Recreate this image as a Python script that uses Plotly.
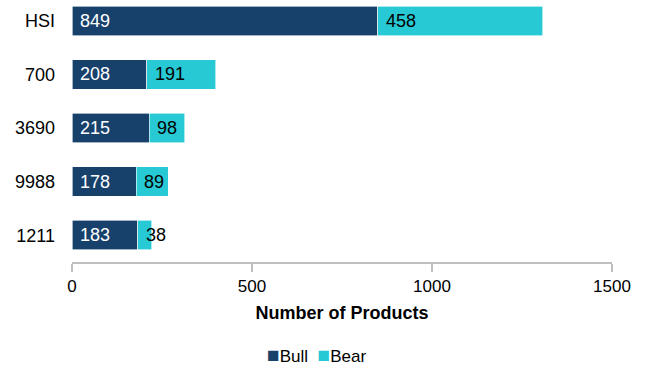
import plotly.graph_objects as go

# Warrant counts per underlying (top to bottom as listed)
underlyings = ["HSI", "700", "3690", "9988", "1211"]
bull = [849, 208, 215, 178, 183]
bear = [458, 191, 98, 89, 38]

NAVY = "#17416B"
CYAN = "#27C9D4"
FONT = "Liberation Sans, Arial, sans-serif"

# Bottom-to-top category order for the vertical axis
cat_order = underlyings[::-1]

fig = go.Figure()
fig.add_trace(go.Bar(
    y=underlyings, x=bull, name="Bull", orientation="h",
    marker=dict(color=NAVY, line=dict(color="white", width=0.6)),
    width=0.55, showlegend=False,
))
fig.add_trace(go.Bar(
    y=underlyings, x=bear, name="Bear", orientation="h",
    marker=dict(color=CYAN, line=dict(color="white", width=0.6)),
    width=0.55, showlegend=False,
))

# Value labels, anchored at the start of each segment
annotations = []
for cat, b, r in zip(underlyings, bull, bear):
    pos = cat_order.index(cat)
    annotations.append(dict(
        x=0, y=pos, xref="x", yref="y", text=str(b), showarrow=False,
        xanchor="left", xshift=6, font=dict(color="white", size=18, family=FONT),
    ))
    annotations.append(dict(
        x=b, y=pos, xref="x", yref="y", text=str(r), showarrow=False,
        xanchor="left", xshift=6, font=dict(color="black", size=18, family=FONT),
    ))

# Compact legend row below the axis title
sq = "<span style='color:{c};font-size:21px'>■</span>"
annotations.append(dict(
    x=0.452, y=-0.352, xref="paper", yref="paper", showarrow=False,
    xanchor="center", yanchor="middle",
    text=sq.format(c=NAVY) + "Bull  " + sq.format(c=CYAN) + "Bear",
    font=dict(size=17, family=FONT, color="black"),
))

fig.update_layout(
    barmode="stack",
    width=648, height=367,
    margin=dict(l=72, r=36, t=0, b=105),
    paper_bgcolor="white", plot_bgcolor="white",
    font=dict(family=FONT, size=17, color="black"),
    annotations=annotations,
    showlegend=False,
    xaxis=dict(
        range=[0, 1500], tickvals=[0, 500, 1000, 1500],
        showgrid=False, zeroline=False,
        showline=True, linecolor="#BFBFBF", linewidth=1.5,
        ticks="outside", ticklen=8, tickcolor="#BFBFBF", tickwidth=1.5,
        tickfont=dict(size=17),
        title=dict(text="<b>Number of Products</b>", font=dict(size=18), standoff=11),
    ),
    yaxis=dict(
        type="category",
        categoryorder="array", categoryarray=cat_order,
        range=[-0.5, 4.39],
        showgrid=False, zeroline=False, showline=False,
        tickfont=dict(size=18), ticklabelstandoff=16,
    ),
)

fig.write_html("out.html")
